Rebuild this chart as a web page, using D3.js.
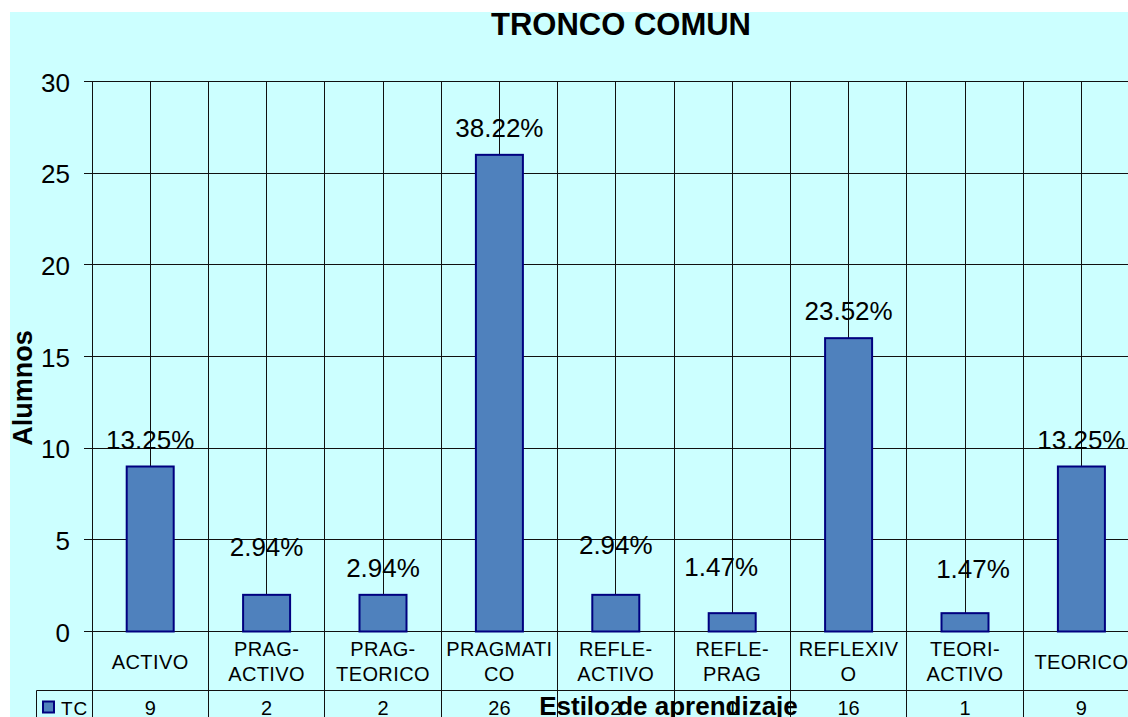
<!DOCTYPE html>
<html>
<head>
<meta charset="utf-8">
<script src="https://cdn.jsdelivr.net/npm/d3@7"></script>
<style>
  html, body { margin: 0; padding: 0; background: #ffffff; overflow: hidden; }
  svg { display: block; }
  text { font-family: "Liberation Sans", Arial, Helvetica, sans-serif; fill: #000; }
</style>
</head>
<body>
<svg id="chart" width="1128" height="717"></svg>
<script>
// ---- data ----
const categories = ["ACTIVO", "PRAG-ACTIVO", "PRAG-TEORICO", "PRAGMATICO", "REFLE-ACTIVO",
                    "REFLE-PRAG", "REFLEXIVO", "TEORI-ACTIVO", "TEORICO"];
const values = [9, 2, 2, 26, 2, 1, 16, 1, 9];
const percentLabels = ["13.25%", "2.94%", "2.94%", "38.22%", "2.94%", "1.47%", "23.52%", "1.47%", "13.25%"];
const yTicks = [0, 5, 10, 15, 20, 25, 30];
const seriesName = "TC";
const chartTitle = "TRONCO COMUN";
const yTitle = "Alumnos";
const xTitle = "Estilo de aprendizaje";

// ---- layout (manually moved data labels, px) ----
const labelShift = [[0, 0], [0, -21], [0, 0], [0, 0], [0, -23], [-11, -19], [0, 0], [8, -17], [0, 0]];

const W = 1128, H = 717;
const plotLeft = 92, plotTop = 81.5, plotBottom = 631.5;
const band = 116.4;
const tableTop = 690.5, tableLeft = 36.5;
const fill = "#4F81BD", edge = "#000080", bg = "#CCFFFF";

const svg = d3.select("#chart");
svg.append("rect").attr("x", 10).attr("y", 12).attr("width", W - 10).attr("height", H - 12).attr("fill", bg);

const x = d3.scaleBand().domain(categories).range([plotLeft, plotLeft + band * categories.length]).padding(0);
const y = d3.scaleLinear().domain([0, 30]).range([plotBottom, plotTop]);

const px = v => Math.round(v - 0.5) + 0.5;

const g = svg.append("g");

// horizontal gridlines + ticks
g.selectAll("line.hgrid").data(yTicks).join("line")
  .attr("class", "hgrid")
  .attr("x1", plotLeft - 8).attr("x2", x.range()[1])
  .attr("y1", d => px(y(d))).attr("y2", d => px(y(d)))
  .attr("stroke", "#111").attr("stroke-width", 1);

// vertical gridlines at band edges and centres
const vPos = [];
categories.forEach(c => { vPos.push(x(c)); vPos.push(x(c) + x.bandwidth() / 2); });
vPos.push(x.range()[1]);
g.selectAll("line.vgrid").data(vPos).join("line")
  .attr("class", "vgrid")
  .attr("x1", d => px(d)).attr("x2", d => px(d))
  .attr("y1", px(y(30))).attr("y2", px(y(0)))
  .attr("stroke", "#111").attr("stroke-width", 1);

// category-edge lines through label area and data table
const edges = categories.map(c => x(c)).concat([x.range()[1]]);
g.selectAll("line.cedge").data(edges).join("line")
  .attr("class", "cedge")
  .attr("x1", d => px(d)).attr("x2", d => px(d))
  .attr("y1", px(y(0))).attr("y2", H)
  .attr("stroke", "#111").attr("stroke-width", 1);

// table lines
g.append("line").attr("x1", tableLeft).attr("x2", W).attr("y1", tableTop).attr("y2", tableTop)
  .attr("stroke", "#111").attr("stroke-width", 1);
g.append("line").attr("x1", tableLeft).attr("x2", tableLeft).attr("y1", tableTop).attr("y2", H)
  .attr("stroke", "#111").attr("stroke-width", 1);

// y axis labels
const yAxis = d3.axisLeft(y).tickValues(yTicks).tickSize(0).tickPadding(0).tickFormat(d3.format("d"));
const ya = svg.append("g").attr("transform", `translate(${plotLeft - 22},0)`).call(yAxis);
ya.select(".domain").remove();
ya.selectAll("text").attr("font-size", 26).attr("fill", "#000")
  .attr("font-family", '"Liberation Sans", Arial, sans-serif').attr("dy", "0.37em");

// bars
const barW = 47;
svg.selectAll("rect.bar").data(values).join("rect")
  .attr("class", "bar")
  .attr("x", (d, i) => x(categories[i]) + x.bandwidth() / 2 - barW / 2)
  .attr("y", d => y(d))
  .attr("width", barW)
  .attr("height", d => y(0) - y(d))
  .attr("fill", fill).attr("stroke", edge).attr("stroke-width", 2);

// data labels
svg.selectAll("text.pct").data(values).join("text")
  .attr("class", "pct")
  .attr("x", (d, i) => x(categories[i]) + x.bandwidth() / 2 + labelShift[i][0])
  .attr("y", (d, i) => y(d) - 18 + labelShift[i][1])
  .attr("text-anchor", "middle")
  .attr("font-size", 26)
  .text((d, i) => percentLabels[i]);

// category labels (wrapped)
const maxW = 110;
const catG = svg.append("g");
categories.forEach((c, i) => {
  const cx = x(c) + x.bandwidth() / 2;
  const t = catG.append("text").attr("text-anchor", "middle").attr("font-size", 20)
    .attr("letter-spacing", "0.4px").attr("x", cx);
  // split after hyphens
  const pieces = c.split(/(?<=-)/);
  const lines = [];
  const meas = svg.append("text").attr("font-size", 20).attr("letter-spacing", "0.4px");
  const widthOf = s => { meas.text(s); return meas.node().getComputedTextLength(); };
  pieces.forEach(p => {
    let cur = "";
    for (const ch of p) {
      if (widthOf(cur + ch) > maxW && cur.length) { lines.push(cur); cur = ch; }
      else cur += ch;
    }
    lines.push(cur);
  });
  meas.remove();
  const lh = 24.3;
  const mid = 668.5 - (lines.length - 1) * lh / 2;
  lines.forEach((l, k) => {
    t.append("tspan").attr("x", cx).attr("y", mid + k * lh).text(l);
  });
});

// data table values
svg.selectAll("text.tv").data(values).join("text")
  .attr("class", "tv")
  .attr("x", (d, i) => x(categories[i]) + x.bandwidth() / 2)
  .attr("y", 714.5)
  .attr("text-anchor", "middle")
  .attr("font-size", 20)
  .text(d => d);

// legend key in table
svg.append("rect").attr("x", 43).attr("y", 701.5).attr("width", 11).attr("height", 11)
  .attr("fill", fill).attr("stroke", edge).attr("stroke-width", 2);
svg.append("text").attr("x", 61).attr("y", 714.5).attr("font-size", 19).attr("letter-spacing", "1px").text(seriesName);

// titles
svg.append("text").attr("x", 621).attr("y", 35).attr("text-anchor", "middle")
  .attr("font-size", 31).attr("font-weight", "bold").text(chartTitle);
svg.append("text").attr("transform", "translate(32,388) rotate(-90)").attr("text-anchor", "middle")
  .attr("font-size", 27).attr("font-weight", "bold").text(yTitle);
svg.append("text").attr("x", 668.5).attr("y", 715).attr("text-anchor", "middle")
  .attr("font-size", 26).attr("font-weight", "bold").text(xTitle);
</script>
</body>
</html>
